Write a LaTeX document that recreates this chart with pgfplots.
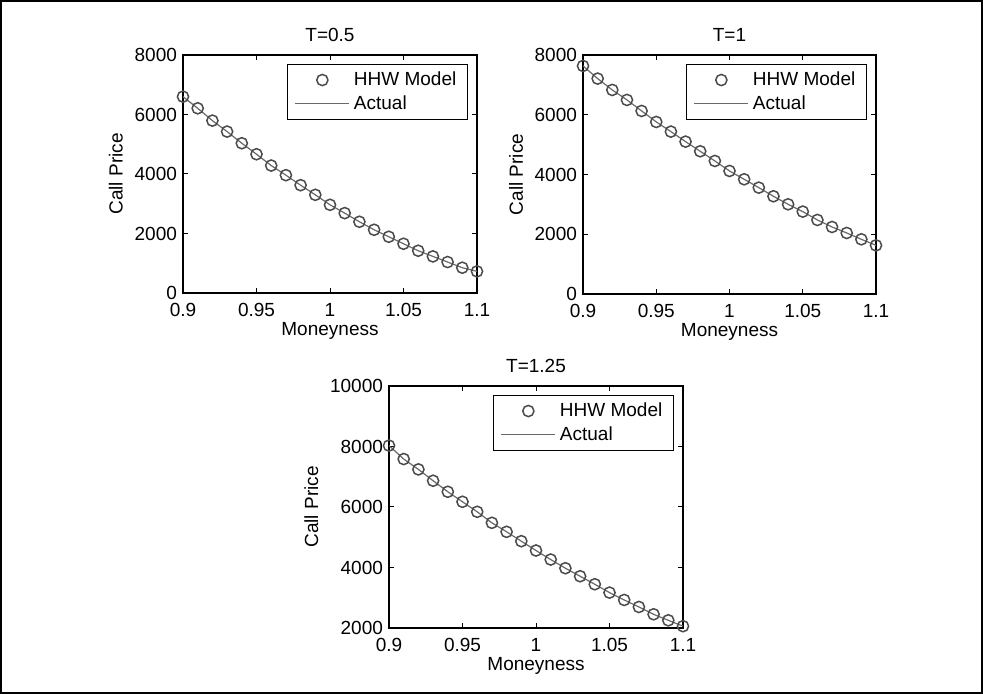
\documentclass[border=0pt]{standalone}
\usepackage{fontspec}
\setmainfont{Liberation Sans}
\usepackage{pgfplots}
\usepackage{pgfplotstable}
\pgfplotsset{compat=1.18}

\definecolor{mkgray}{RGB}{75,75,75}
\definecolor{lngray}{RGB}{105,105,105}
\newcommand{\fs}{\fontsize{9.5}{11}\selectfont}

% T = 0.5
\pgfplotstableread{
m     c
0.90  6600
0.91  6208
0.92  5794
0.93  5425
0.94  5034
0.95  4664
0.96  4284
0.97  3960
0.98  3624
0.99  3300
1.00  2964
1.01  2685
1.02  2394
1.03  2125
1.04  1890
1.05  1655
1.06  1420
1.07  1230
1.08  1040
1.09  850
1.10  727
}\tA
% T = 1
\pgfplotstableread{
m     c
0.90  7634
0.91  7210
0.92  6830
0.93  6496
0.94  6127
0.95  5759
0.96  5435
0.97  5100
0.98  4777
0.99  4453
1.00  4118
1.01  3839
1.02  3560
1.03  3270
1.04  3002
1.05  2757
1.06  2478
1.07  2243
1.08  2042
1.09  1830
1.10  1629
}\tB
% T = 1.25
\pgfplotstableread{
m     c
0.90  8030
0.91  7585
0.92  7243
0.93  6868
0.94  6503
0.95  6172
0.96  5841
0.97  5477
0.98  5179
0.99  4870
1.00  4561
1.01  4263
1.02  3976
1.03  3711
1.04  3446
1.05  3170
1.06  2927
1.07  2695
1.08  2453
1.09  2254
1.10  2060
}\tC

\pgfplotsset{
  panel/.style={
    scale only axis,
    anchor=south west,
    xmin=0.9, xmax=1.1,
    xtick={0.9,0.95,1,1.05,1.1},
    xticklabels={0.9,0.95,1,1.05,1.1},
    tick align=inside,
    major tick length=2.5pt,
    axis line style={line width=0.65pt},
    every tick/.style={black, line width=0.5pt},
    scaled y ticks=false,
    /pgf/number format/1000 sep={},
    /pgf/number format/assume math mode=true,
    tick label style={font=\fs},
    xticklabel style={yshift=-1.5pt},
    yticklabel style={xshift=0.5pt},
    label style={font=\fs},
    title style={font=\fs, yshift=-3pt},
    xlabel={Moneyness},
    ylabel={Call Price},
    xlabel style={yshift=4pt},
    ylabel style={yshift=-1pt},
    legend style={at={(1,1)}, anchor=north east, xshift=-4.5pt, yshift=-4.5pt,
      font=\fs, cells={anchor=west}, draw=black, line width=0.65pt,
      inner xsep=3.5pt, inner ysep=1.5pt, row sep=-0.5pt},
    legend cell align=left,
  },
  hhw/.style={only marks, mark=o, mark size=2.8pt, mkgray, line width=0.75pt,
    legend image code/.code={\draw[mark repeat=2,mark phase=2,##1] plot coordinates {(0pt,0pt)(13.5pt,0pt)(27pt,0pt)};}},
  act/.style={no marks, lngray, line width=0.6pt,
    legend image code/.code={\draw[##1] (0pt,0pt) -- (27pt,0pt);}},
}

\begin{document}
\begin{tikzpicture}
\useasboundingbox (0,0) rectangle (491.5pt,347pt);
\draw[line width=0.8pt] (0.6pt,0.6pt) rectangle (490.9pt,346.4pt);

\begin{axis}[panel, at={(91.5pt,200.5pt)}, width=147pt, height=119pt,
  ymin=0, ymax=8000, ytick={0,2000,4000,6000,8000}, title={T=0.5}]
\addplot[hhw] table[x=m, y=c] {\tA};
\addplot[act] table[x=m, y=c] {\tA};
\legend{HHW Model, Actual}
\end{axis}

\begin{axis}[panel, at={(291.5pt,200pt)}, width=146.5pt, height=119.5pt,
  ymin=0, ymax=8000, ytick={0,2000,4000,6000,8000}, title={T=1}]
\addplot[hhw] table[x=m, y=c] {\tB};
\addplot[act] table[x=m, y=c] {\tB};
\legend{HHW Model, Actual}
\end{axis}

\begin{axis}[panel, at={(194.5pt,33pt)}, width=147pt, height=121pt,
  ymin=2000, ymax=10000, ytick={2000,4000,6000,8000,10000}, title={T=1.25}]
\addplot[hhw] table[x=m, y=c] {\tC};
\addplot[act] table[x=m, y=c] {\tC};
\legend{HHW Model, Actual}
\end{axis}
\end{tikzpicture}
\end{document}
